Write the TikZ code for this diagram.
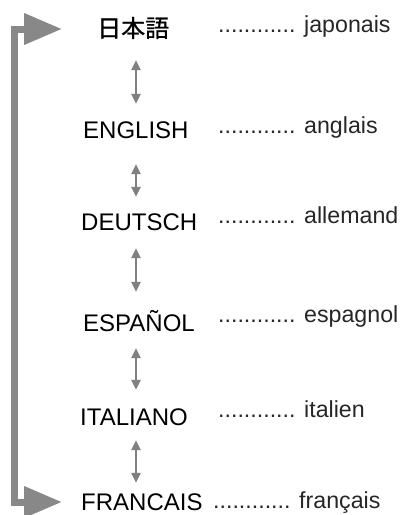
\documentclass[tikz,border=0pt]{standalone}
\usepackage{fontspec}
\setmainfont{Liberation Sans}
\newfontfamily\jpfont[FakeBold=0.8]{Noto Sans CJK JP}
\usetikzlibrary{arrows.meta}
\definecolor{arrowgray}{RGB}{128,128,128}
\definecolor{railgray}{RGB}{136,136,136}

\begin{document}
\begin{tikzpicture}[x=1pt, y=-1pt,
  lang/.style={anchor=base west, inner sep=0pt, font=\fontsize{24}{29}\selectfont,
               text height=17pt, text depth=0pt},
  gloss/.style={anchor=base west, inner sep=0pt, font=\fontsize{23.2}{28}\selectfont,
                text=black!85},
  link/.style={draw=arrowgray, line width=2.4pt,
               {Triangle[length=10pt,width=9pt]}-{Triangle[length=10pt,width=9pt]}},
  rail/.style={draw=railgray, line width=7pt, line join=miter,
               {Triangle[length=38pt,width=30pt]}-{Triangle[length=38pt,width=30pt]}},
]
\useasboundingbox (0,0) rectangle (403,515);

%% Language names (left column)
\node[lang] (jp) at (97,37)  {{\jpfont 日本語}};
\node[lang] (en) at (83,138) {ENGLISH};
\node[lang] (de) at (81,230) {DEUTSCH};
\node[lang] (es) at (83,331) {ESPAÑOL};
\node[lang] (it) at (80,425) {ITALIANO};
\node[lang] (fr) at (81,510) {FRANCAIS};

%% French glosses (right column)
\node[gloss] (jpg) at (218,32)  {............ japonais};
\node[gloss] (eng) at (218,133) {............ anglais};
\node[gloss] (deg) at (218,223) {............ allemand};
\node[gloss] (esg) at (218,322) {............ espagnol};
\node[gloss] (itg) at (218,417) {............ italien};
\node[gloss] (frg) at (213,508) {............ français};

%% Up/down arrows between neighbours
\coordinate (ax) at (136,0);
\foreach \a/\b/\s/\e in {jp/en/23/17, en/de/26/16, de/es/18/22,
                         es/it/17/18, it/fr/15/10}{
  \draw[link, shorten <=\s pt, shorten >=\e pt] (\a.south -| ax) -- (\b.north -| ax);
}

%% Wrap-around rail on the left
\coordinate (railx) at (14.5,0);
\coordinate (topTip) at (62,29);
\coordinate (botTip) at (62,502);
\draw[rail] (topTip) -- (topTip -| railx) -- (botTip -| railx) -- (botTip);
\end{tikzpicture}
\end{document}
